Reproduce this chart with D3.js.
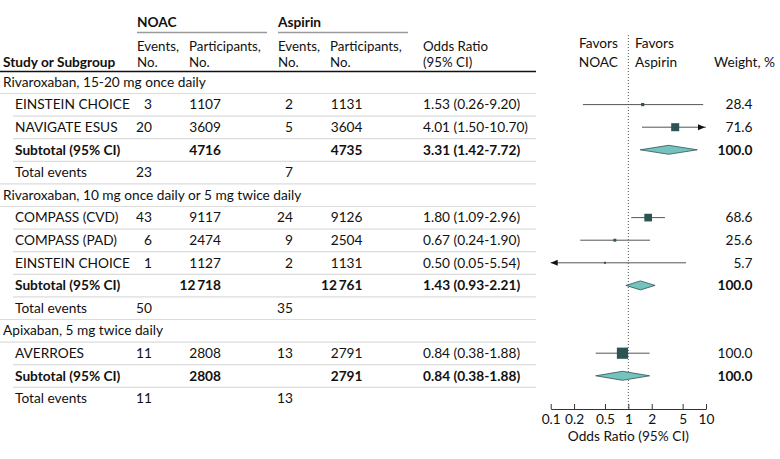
<!DOCTYPE html>
<html><head><meta charset="utf-8">
<script src="https://cdn.jsdelivr.net/npm/d3@7"></script>
<style>
body{margin:0;background:#fff;}
svg{display:block;}
text{font-family:Lato, "Noto Sans", sans-serif;font-size:13.7px;fill:#111;}
.b{font-weight:bold;}
.h2{font-size:13.3px;}
</style></head>
<body><svg id="c" width="780" height="459"></svg>
<script>
const rowLabels = ["Rivaroxaban, 15-20 mg once daily","EINSTEIN CHOICE","NAVIGATE ESUS","Subtotal (95% CI)","Total events",
  "Rivaroxaban, 10 mg once daily or 5 mg twice daily","COMPASS (CVD)","COMPASS (PAD)","EINSTEIN CHOICE","Subtotal (95% CI)","Total events",
  "Apixaban, 5 mg twice daily","AVERROES","Subtotal (95% CI)","Total events"];
const rowTypes = ["group","study","study","subtotal","total","group","study","study","study","subtotal","total","group","study","subtotal","total"];
const noacEvents = [null,3,20,null,23,null,43,6,1,null,50,null,11,null,11];
const noacParticipants = [null,1107,3609,4716,null,null,9117,2474,1127,12718,null,null,2808,2808,null];
const aspirinEvents = [null,2,5,null,7,null,24,9,2,null,35,null,13,null,13];
const aspirinParticipants = [null,1131,3604,4735,null,null,9126,2504,1131,12761,null,null,2791,2791,null];
const orEst = [null,1.53,4.01,3.31,null,null,1.80,0.67,0.50,1.43,null,null,0.84,0.84,null];
const orLow = [null,0.26,1.50,1.42,null,null,1.09,0.24,0.05,0.93,null,null,0.38,0.38,null];
const orHigh = [null,9.20,10.70,7.72,null,null,2.96,1.90,5.54,2.21,null,null,1.88,1.88,null];
const weights = [null,28.4,71.6,100.0,null,null,68.6,25.6,5.7,100.0,null,null,100.0,100.0,null];
const axisTicks = [0.1,0.2,0.5,1,2,5,10];
const axisTickLabels = ["0.1","0.2","0.5","1","2","5","10"];

const svg = d3.select("#c");
const dark = "#2b5553", diamondFill = "#76c2be";
const y = d3.scaleLinear().domain([0,14]).range([82,398.4]);
const x = d3.scaleLog().domain([0.1,10]).range([550.7,706]);
const fmtN = v => v==null ? "" : (v>=10000 ? String(v).replace(/(\d)(\d{3})$/,"$1\u2009$2") : String(v));

// header
const H = svg.append("g");
H.append("text").attr("class","b").attr("x",137).attr("y",27).text("NOAC");
H.append("text").attr("class","b").attr("x",278).attr("y",27).text("Aspirin");
H.append("line").attr("x1",137).attr("x2",267).attr("y1",32.5).attr("y2",32.5).attr("stroke","#9a9a9a").attr("stroke-width",1.5);
H.append("line").attr("x1",278).attr("x2",408).attr("y1",32.5).attr("y2",32.5).attr("stroke","#9a9a9a").attr("stroke-width",1.5);
function twoLine(xx, y1, y2, a, b, anchor, cls){
  H.append("text").attr("class",cls||null).attr("text-anchor",anchor||"start").attr("x",xx).attr("y",y1).text(a);
  H.append("text").attr("class",cls||null).attr("text-anchor",anchor||"start").attr("x",xx).attr("y",y2).text(b);
}
[[137,"Events,","No."],[189,"Participants,","No."],[278,"Events,","No."],[330,"Participants,","No."],[423,"Odds Ratio","(95% CI)"]].forEach(([xx,a,b])=>twoLine(xx,50.5,66.5,a,b,"start","h2"));
H.append("text").attr("class","b").attr("x",3).attr("y",66.5).text("Study or Subgroup");
twoLine(618,47.5,66.5,"Favors","NOAC","end");
twoLine(635,47.5,66.5,"Favors","Aspirin","start");
H.append("text").attr("x",714).attr("y",66.5).text("Weight, %");
H.append("line").attr("x1",0).attr("x2",536).attr("y1",71.5).attr("y2",71.5).attr("stroke","#111").attr("stroke-width",1.5);

// separators
rowLabels.forEach((l,i)=>{
  if(i===rowLabels.length-1) return;
  const t = rowTypes[i];
  const x1 = (t==="group"||t==="total") ? 0 : 13;
  svg.append("line").attr("x1",x1).attr("x2",536).attr("y1",y(i)+11.5).attr("y2",y(i)+11.5).attr("stroke","#dcdcdc").attr("stroke-width",1.2);
});

// rows text
const R = svg.append("g");
rowLabels.forEach((l,i)=>{
  const t = rowTypes[i], yy = y(i)+4.7;
  const cls = t==="subtotal" ? "b" : null;
  R.append("text").attr("class",cls).attr("x",t==="group"?3:15).attr("y",yy).text(l);
  if(noacEvents[i]!=null) R.append("text").attr("text-anchor","end").attr("x",152).attr("y",yy).text(noacEvents[i]);
  if(noacParticipants[i]!=null) R.append("text").attr("class",cls).attr("text-anchor","end").attr("x",221).attr("y",yy).text(fmtN(noacParticipants[i]));
  if(aspirinEvents[i]!=null) R.append("text").attr("text-anchor","end").attr("x",293).attr("y",yy).text(aspirinEvents[i]);
  if(aspirinParticipants[i]!=null) R.append("text").attr("class",cls).attr("text-anchor","end").attr("x",362.5).attr("y",yy).text(fmtN(aspirinParticipants[i]));
  if(orEst[i]!=null) R.append("text").attr("class",cls).attr("x",423).attr("y",yy).text(`${orEst[i].toFixed(2)} (${orLow[i].toFixed(2)}-${orHigh[i].toFixed(2)})`);
  if(weights[i]!=null) R.append("text").attr("class",cls).attr("text-anchor","end").attr("x",752.5).attr("y",yy).text(weights[i].toFixed(1));
});

// reference line
svg.append("line").attr("x1",x(1)).attr("x2",x(1)).attr("y1",35).attr("y2",409).attr("stroke","#555").attr("stroke-width",1).attr("stroke-dasharray","1,2");

// forest marks
const F = svg.append("g");
rowLabels.forEach((l,i)=>{
  if(orEst[i]==null) return;
  const yy = y(i);
  if(rowTypes[i]==="study"){
    const lo = Math.max(orLow[i],0.1), hi = Math.min(orHigh[i],10);
    F.append("line").attr("x1",x(lo)).attr("x2",x(hi)).attr("y1",yy).attr("y2",yy).attr("stroke","#555").attr("stroke-width",1);
    if(orLow[i]<0.1){
      const ax = x(0.1);
      F.append("path").attr("d",`M${ax},${yy}L${ax+7},${yy-3}L${ax+7},${yy+3}Z`).attr("fill","#111");
    }
    if(orHigh[i]>10){
      const ax = x(10)-1;
      F.append("path").attr("d",`M${ax},${yy}L${ax-7},${yy-3}L${ax-7},${yy+3}Z`).attr("fill","#111");
    }
    const s = Math.max(2, weights[i]*0.112);
    F.append("rect").attr("x",x(orEst[i])-s/2).attr("y",yy-s/2).attr("width",s).attr("height",s).attr("fill",dark);
  } else {
    F.append("path").attr("d",`M${x(orLow[i])},${yy}L${x(orEst[i])},${yy-4.5}L${x(orHigh[i])},${yy}L${x(orEst[i])},${yy+4.5}Z`)
      .attr("fill",diamondFill).attr("stroke",dark).attr("stroke-width",0.8);
  }
});

// axis
const ax = svg.append("g").attr("transform","translate(0,409)")
  .call(d3.axisBottom(x).tickValues(axisTicks).tickFormat((d,i)=>axisTickLabels[i]).tickSize(-5).tickSizeOuter(0).tickPadding(5));
ax.select(".domain").attr("stroke","#333");
ax.selectAll(".tick line").attr("stroke","#333");
ax.selectAll(".tick text").style("font-family","Lato, sans-serif").style("font-size","13.7px").attr("fill","#111");
svg.append("text").attr("text-anchor","middle").attr("x",x(1)).attr("y",441).text("Odds Ratio (95% CI)");
</script></body></html>
